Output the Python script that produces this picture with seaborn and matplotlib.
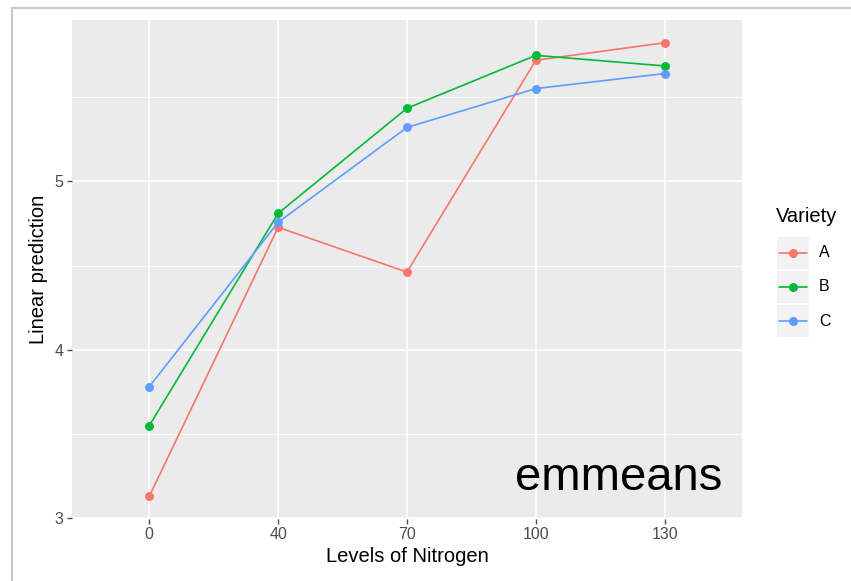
import matplotlib
matplotlib.use("Agg")
import matplotlib.pyplot as plt
import seaborn as sns
import pandas as pd
from matplotlib.patches import Rectangle
from matplotlib.lines import Line2D

nitrogen = ["0", "40", "70", "100", "130"]
variety_A = [3.13, 4.727, 4.461, 5.719, 5.823]
variety_B = [3.55, 4.810, 5.434, 5.748, 5.685]
variety_C = [3.781, 4.757, 5.320, 5.551, 5.640]
varieties = ["A", "B", "C"]
colors = ["#F8766D", "#00BA38", "#619CFF"]

rows = []
for v, vals in zip(varieties, [variety_A, variety_B, variety_C]):
    for n, y in zip(nitrogen, vals):
        rows.append({"Nitrogen": n, "Variety": v, "pred": y})
df = pd.DataFrame(rows)

sns.set_theme(style="darkgrid")
plt.rcParams["font.family"] = ["Liberation Sans", "DejaVu Sans"]

W, H = 851, 581
fig = plt.figure(figsize=(W / 100, H / 100), dpi=100)
fig.patch.set_facecolor("white")

def fx(px):
    return px / W

def fy(py):
    return 1 - py / H

ax = fig.add_axes([fx(72), fy(519), fx(742) - fx(72), fy(20) - fy(519)])
ax.set_facecolor("#EBEBEB")

sns.pointplot(data=df, x="Nitrogen", y="pred", hue="Variety", order=nitrogen,
              hue_order=varieties, palette=colors, errorbar=None, markers="o",
              linestyles="-", ax=ax, linewidth=1.2, markersize=5.5, legend=False)

ax.set_xlim(-0.6, 4.6)
ax.set_ylim(2.995, 5.958)
ax.set_yticks([3, 4, 5])
ax.set_yticklabels(["3", "4", "5"])
ax.set_yticks([3.5, 4.5, 5.5], minor=True)
ax.grid(which="major", color="white", linewidth=1.2)
ax.grid(which="minor", axis="y", color="white", linewidth=0.6)
for s in ax.spines.values():
    s.set_visible(False)
ax.tick_params(axis="both", which="major", bottom=True, left=True, length=3.5, width=1,
               color="#4D4D4D", labelcolor="#4D4D4D", labelsize=11.5, pad=2.5)
ax.tick_params(axis="y", which="minor", length=0, left=False)
ax.set_xlabel("Levels of Nitrogen", fontsize=14.5, color="black", labelpad=3)
ax.set_ylabel("Linear prediction", fontsize=14.5, color="black", labelpad=5)

ax.text(0.971, 0.058, "emmeans", transform=ax.transAxes, ha="right", va="baseline",
        fontsize=34, color="black")

# frame of screenshot
fig.patches.append(Rectangle((fx(12), -0.1), 1.2, fy(8) + 0.1, transform=fig.transFigure,
                             fill=False, edgecolor="#C8C8C8", linewidth=1.5))

# legend
fig.text(fx(776), fy(216), "Variety", fontsize=14.5, va="center", ha="left", color="black")
key_tops = [237, 271, 305]
for v, c, top in zip(varieties, colors, key_tops):
    fig.patches.append(Rectangle((fx(777), fy(top + 32)), fx(32), fy(top) - fy(top + 32),
                                 transform=fig.transFigure, facecolor="#F2F2F2",
                                 edgecolor="none"))
    yc = fy(top + 16)
    fig.lines.append(Line2D([fx(779), fx(807)], [yc, yc], transform=fig.transFigure,
                            color=c, linewidth=1.2))
    fig.lines.append(Line2D([fx(793)], [yc], transform=fig.transFigure, color=c,
                            marker="o", markersize=5.5, linestyle="none"))
    fig.text(fx(819), yc, v, fontsize=11.5, va="center", ha="left", color="black")

fig.savefig("out.png", dpi=100)
